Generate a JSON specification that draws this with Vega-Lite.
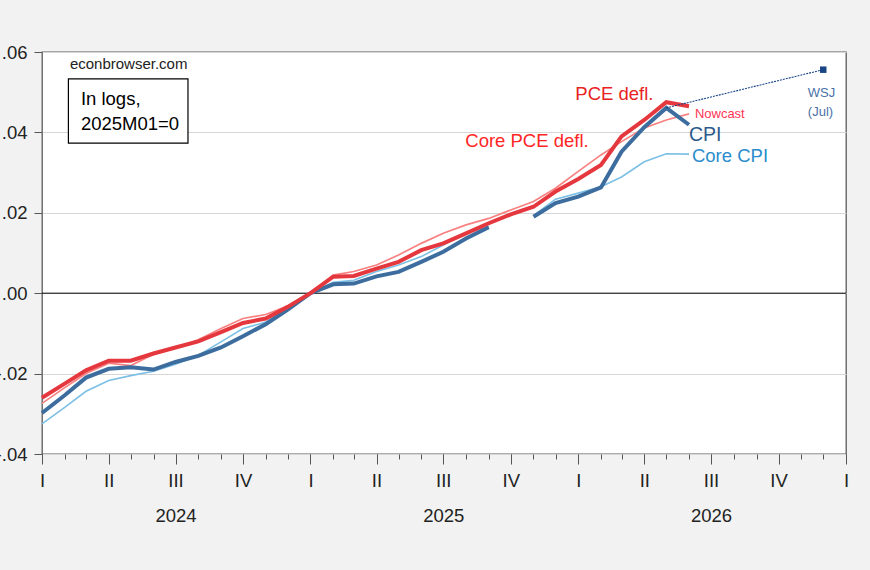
{
  "$schema": "https://vega.github.io/schema/vega-lite/v6.json",
  "width": 804,
  "height": 402,
  "autosize": {"type": "none"},
  "padding": {"left": 42, "top": 52, "right": 24, "bottom": 116},
  "background": "#f2f2f2",
  "config": {
    "font": "Liberation Sans",
    "view": {"fill": "white", "stroke": "#5a5a5a", "strokeWidth": 1.3}
  },
  "datasets": {
    "series": [
      {"date": "2024-01-01", "pce": -0.0260, "corepce": -0.0274, "cpi": -0.0298, "corecpi": -0.0325},
      {"date": "2024-02-01", "pce": -0.0225, "corepce": -0.0235, "cpi": -0.0254, "corecpi": -0.0284},
      {"date": "2024-03-01", "pce": -0.0192, "corepce": -0.0200, "cpi": -0.0210, "corecpi": -0.0244},
      {"date": "2024-04-01", "pce": -0.0168, "corepce": -0.0174, "cpi": -0.0188, "corecpi": -0.0217},
      {"date": "2024-05-01", "pce": -0.0168, "corepce": -0.0180, "cpi": -0.0184, "corecpi": -0.0205},
      {"date": "2024-06-01", "pce": -0.0150, "corepce": -0.0152, "cpi": -0.0190, "corecpi": -0.0194},
      {"date": "2024-07-01", "pce": -0.0135, "corepce": -0.0136, "cpi": -0.0171, "corecpi": -0.0177},
      {"date": "2024-08-01", "pce": -0.0120, "corepce": -0.0116, "cpi": -0.0156, "corecpi": -0.0155},
      {"date": "2024-09-01", "pce": -0.0097, "corepce": -0.0088, "cpi": -0.0135, "corecpi": -0.0121},
      {"date": "2024-10-01", "pce": -0.0074, "corepce": -0.0063, "cpi": -0.0107, "corecpi": -0.0088},
      {"date": "2024-11-01", "pce": -0.0063, "corepce": -0.0053, "cpi": -0.0077, "corecpi": -0.0072},
      {"date": "2024-12-01", "pce": -0.0034, "corepce": -0.0032, "cpi": -0.0041, "corecpi": -0.0038},
      {"date": "2025-01-01", "pce": 0.0, "corepce": 0.0, "cpi": 0.0, "corecpi": 0.0},
      {"date": "2025-02-01", "pce": 0.0041, "corepce": 0.0045, "cpi": 0.0022, "corecpi": 0.0027},
      {"date": "2025-03-01", "pce": 0.0043, "corepce": 0.0054, "cpi": 0.0024, "corecpi": 0.0032},
      {"date": "2025-04-01", "pce": 0.0061, "corepce": 0.0070, "cpi": 0.0042, "corecpi": 0.0054},
      {"date": "2025-05-01", "pce": 0.0078, "corepce": 0.0095, "cpi": 0.0053, "corecpi": 0.0070},
      {"date": "2025-06-01", "pce": 0.0107, "corepce": 0.0124, "cpi": 0.0078, "corecpi": 0.0091},
      {"date": "2025-07-01", "pce": 0.0124, "corepce": 0.0149, "cpi": 0.0103, "corecpi": 0.0120},
      {"date": "2025-08-01", "pce": 0.0149, "corepce": 0.0170, "cpi": 0.0136, "corecpi": 0.0149},
      {"date": "2025-09-01", "pce": 0.0174, "corepce": 0.0186, "cpi": 0.0164, "corecpi": 0.0166},
      {"date": "2025-10-01", "pce": 0.0196, "corepce": 0.0207, "cpi": null, "corecpi": null},
      {"date": "2025-11-01", "pce": 0.0215, "corepce": 0.0228, "cpi": 0.0190, "corecpi": 0.0193},
      {"date": "2025-12-01", "pce": 0.0253, "corepce": 0.0261, "cpi": 0.0224, "corecpi": 0.0234},
      {"date": "2026-01-01", "pce": 0.0284, "corepce": 0.0303, "cpi": 0.0240, "corecpi": 0.0249},
      {"date": "2026-02-01", "pce": 0.0319, "corepce": 0.0344, "cpi": 0.0263, "corecpi": 0.0265},
      {"date": "2026-03-01", "pce": 0.0390, "corepce": 0.0377, "cpi": 0.0352, "corecpi": 0.0289},
      {"date": "2026-04-01", "pce": 0.0431, "corepce": 0.0411, "cpi": 0.0413, "corecpi": 0.0327},
      {"date": "2026-05-01", "pce": 0.0475, "corepce": 0.0431, "cpi": 0.0461, "corecpi": 0.0347},
      {"date": "2026-06-01", "pce": 0.0465, "corepce": 0.0446, "cpi": 0.0419, "corecpi": 0.0346}
    ],
    "zero": [{"value": 0}],
    "wsj": [
      {"date": "2026-05-01", "value": 0.0461},
      {"date": "2026-12-01", "value": 0.0556}
    ],
    "wsjpoint": [
      {"date": "2026-12-01", "value": 0.0556}
    ],
    "box": [
      {"x1": "2024-02-06", "x2": "2024-07-18", "y1": 0.0533, "y2": 0.03734}
    ],
    "notes": [
      {"text": "econbrowser.com", "date": "2024-02-08", "value": 0.05587},
      {"text": "In logs,", "date": "2024-02-23", "value": 0.04689},
      {"text": "2025M01=0", "date": "2024-02-23", "value": 0.04065},
      {"text": "PCE defl.", "date": "2025-12-28", "value": 0.04813},
      {"text": "Core PCE defl.", "date": "2025-07-31", "value": 0.03641},
      {"text": "Nowcast", "date": "2026-06-09", "value": 0.04357},
      {"text": "CPI", "date": "2026-06-01", "value": 0.03791},
      {"text": "Core CPI", "date": "2026-06-05", "value": 0.03275},
      {"text": "WSJ", "date": "2026-11-10", "value": 0.04881},
      {"text": "(Jul)", "date": "2026-11-10", "value": 0.04414}
    ]
  },
  "resolve": {"axis": {"x": "independent", "y": "shared"}},
  "layer": [
    {
      "data": {"name": "series"},
      "mark": {"type": "line", "color": "#7cc0e6", "strokeWidth": 1.6, "invalid": "break-paths-filter-domains"},
      "encoding": {
        "x": {
          "field": "date", "type": "temporal",
          "scale": {"type": "utc", "domain": [{"year": 2024, "month": 1, "date": 1, "utc": true}, {"year": 2027, "month": 1, "date": 1, "utc": true}]},
          "axis": {"orient": "bottom", "title": null, "labels": false, "domain": false, "grid": false, "tickCount": {"interval": "month", "step": 1}, "tickSize": 5, "tickColor": "#555", "tickWidth": 1}
        },
        "y": {
          "field": "corecpi", "type": "quantitative",
          "scale": {"domain": [-0.04, 0.06], "nice": false, "zero": false},
          "axis": {"title": null, "orient": "left", "values": [-0.04, -0.02, 0, 0.02, 0.04, 0.06], "grid": true, "gridColor": "#d6d6d6", "domain": false, "tickSize": 8, "tickColor": "#555", "labelFontSize": 18.5, "labelColor": "#222", "labelPadding": 7, "labelExpr": "(datum.value < -0.0001 ? '-.' : '.') + substring(format(abs(datum.value), '.2f'), 2)"}
        }
      }
    },
    {
      "data": {"name": "zero"},
      "mark": {"type": "rule", "color": "black", "strokeWidth": 1},
      "encoding": {"y": {"field": "value", "type": "quantitative"}}
    },
    {
      "data": {"name": "series"},
      "mark": {"type": "line", "color": "#f88080", "strokeWidth": 1.7},
      "encoding": {
        "x": {
          "field": "date", "type": "temporal",
          "axis": {"orient": "bottom", "title": null, "domain": false, "grid": false, "tickCount": {"interval": "month", "step": 3}, "tickSize": 10, "tickColor": "#555", "tickWidth": 1, "labelFontSize": 18.5, "labelColor": "#222", "labelPadding": 7, "labelFlush": false, "labelOverlap": false, "labelBound": false, "labelExpr": "['I','II','III','IV'][floor(utcmonth(datum.value)/3)]"}
        },
        "y": {"field": "corepce", "type": "quantitative"}
      }
    },
    {
      "data": {"name": "series"},
      "mark": {"type": "line", "color": "#3d6d9e", "strokeWidth": 4, "invalid": "break-paths-filter-domains"},
      "encoding": {
        "x": {
          "field": "date", "type": "temporal",
          "axis": {"orient": "bottom", "title": null, "domain": false, "grid": false, "ticks": false, "tickSize": 0, "values": [{"year": 2024, "month": 7, "date": 1, "utc": true}, {"year": 2025, "month": 7, "date": 1, "utc": true}, {"year": 2026, "month": 7, "date": 1, "utc": true}], "format": "%Y", "labelFontSize": 18.5, "labelColor": "#222", "labelPadding": 52, "labelFlush": false, "labelOverlap": false}
        },
        "y": {"field": "cpi", "type": "quantitative"}
      }
    },
    {
      "data": {"name": "series"},
      "mark": {"type": "line", "color": "#e5383e", "strokeWidth": 4},
      "encoding": {
        "x": {"field": "date", "type": "temporal", "axis": null},
        "y": {"field": "pce", "type": "quantitative"}
      }
    },
    {
      "data": {"name": "wsj"},
      "mark": {"type": "line", "color": "#1a4585", "strokeWidth": 1.1, "strokeDash": [2, 1]},
      "encoding": {
        "x": {"field": "date", "type": "temporal", "axis": null},
        "y": {"field": "value", "type": "quantitative"}
      }
    },
    {
      "data": {"name": "wsjpoint"},
      "mark": {"type": "point", "shape": "square", "filled": true, "color": "#1a4585", "size": 42, "opacity": 1},
      "encoding": {
        "x": {"field": "date", "type": "temporal", "axis": null},
        "y": {"field": "value", "type": "quantitative"}
      }
    },
    {
      "data": {"name": "box"},
      "mark": {"type": "rect", "fill": "white", "stroke": "black", "strokeWidth": 1.2},
      "encoding": {
        "x": {"field": "x1", "type": "temporal", "axis": null},
        "x2": {"field": "x2"},
        "y": {"field": "y1", "type": "quantitative"},
        "y2": {"field": "y2"}
      }
    },
    {
      "data": {"name": "notes"},
      "transform": [{"filter": "datum.text === 'econbrowser.com'"}],
      "mark": {"type": "text", "align": "left", "baseline": "alphabetic", "fontSize": 15, "color": "#222"},
      "encoding": {
        "x": {"field": "date", "type": "temporal", "axis": null},
        "y": {"field": "value", "type": "quantitative"},
        "text": {"field": "text"}
      }
    },
    {
      "data": {"name": "notes"},
      "transform": [{"filter": "datum.text === 'In logs,' || datum.text === '2025M01=0'"}],
      "mark": {"type": "text", "align": "left", "baseline": "alphabetic", "fontSize": 18.5, "color": "#000"},
      "encoding": {
        "x": {"field": "date", "type": "temporal", "axis": null},
        "y": {"field": "value", "type": "quantitative"},
        "text": {"field": "text"}
      }
    },
    {
      "data": {"name": "notes"},
      "transform": [{"filter": "datum.text === 'PCE defl.'"}],
      "mark": {"type": "text", "align": "left", "baseline": "alphabetic", "fontSize": 18.5, "color": "#e8231f"},
      "encoding": {
        "x": {"field": "date", "type": "temporal", "axis": null},
        "y": {"field": "value", "type": "quantitative"},
        "text": {"field": "text"}
      }
    },
    {
      "data": {"name": "notes"},
      "transform": [{"filter": "datum.text === 'Core PCE defl.'"}],
      "mark": {"type": "text", "align": "left", "baseline": "alphabetic", "fontSize": 18.5, "color": "#ff2626"},
      "encoding": {
        "x": {"field": "date", "type": "temporal", "axis": null},
        "y": {"field": "value", "type": "quantitative"},
        "text": {"field": "text"}
      }
    },
    {
      "data": {"name": "notes"},
      "transform": [{"filter": "datum.text === 'Nowcast'"}],
      "mark": {"type": "text", "align": "left", "baseline": "alphabetic", "fontSize": 13, "color": "#ff3355"},
      "encoding": {
        "x": {"field": "date", "type": "temporal", "axis": null},
        "y": {"field": "value", "type": "quantitative"},
        "text": {"field": "text"}
      }
    },
    {
      "data": {"name": "notes"},
      "transform": [{"filter": "datum.text === 'CPI'"}],
      "mark": {"type": "text", "align": "left", "baseline": "alphabetic", "fontSize": 19.5, "color": "#2c5a8c"},
      "encoding": {
        "x": {"field": "date", "type": "temporal", "axis": null},
        "y": {"field": "value", "type": "quantitative"},
        "text": {"field": "text"}
      }
    },
    {
      "data": {"name": "notes"},
      "transform": [{"filter": "datum.text === 'Core CPI'"}],
      "mark": {"type": "text", "align": "left", "baseline": "alphabetic", "fontSize": 18.5, "color": "#2a8ccc"},
      "encoding": {
        "x": {"field": "date", "type": "temporal", "axis": null},
        "y": {"field": "value", "type": "quantitative"},
        "text": {"field": "text"}
      }
    },
    {
      "data": {"name": "notes"},
      "transform": [{"filter": "datum.text === 'WSJ' || datum.text === '(Jul)'"}],
      "mark": {"type": "text", "align": "left", "baseline": "alphabetic", "fontSize": 13, "color": "#4a72a8"},
      "encoding": {
        "x": {"field": "date", "type": "temporal", "axis": null},
        "y": {"field": "value", "type": "quantitative"},
        "text": {"field": "text"}
      }
    }
  ]
}
